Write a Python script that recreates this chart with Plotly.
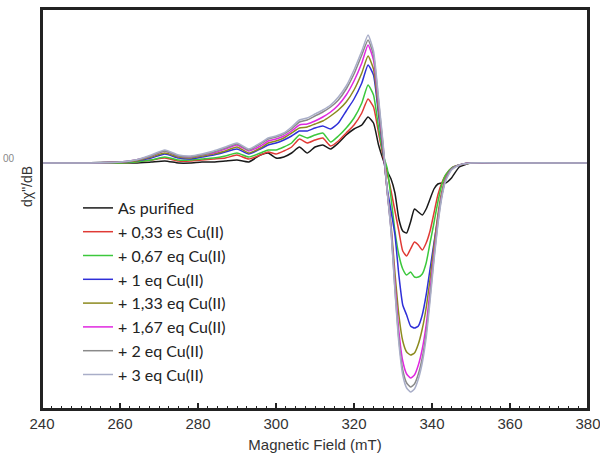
import plotly.graph_objects as go

field_mT = [240, 250, 260, 264, 268, 271.5, 275, 278, 281, 284, 287, 290, 293, 296, 298,
            300, 302, 304, 306, 308, 310, 312, 314, 316, 318, 320, 322, 323.6, 325, 326.3,
            327.5, 328.5, 329.5, 330.5, 331.5, 332.5, 333.5, 334.5, 335.5, 336.5, 337.5,
            338.5, 339.5, 340.5, 341.5, 342.5, 343.5, 345, 347, 350, 360, 370, 380]

as_purified = [0, 0, 0, 0, 1, 2, 0, 0, 1, 1, 2, 3, 1, 8, 10,
               5, 6, 10, 16, 10, 16, 18, 14, 20, 28, 34, 38, 46, 40, 18,
               3, -8, -16, -30, -56, -68, -70, -59, -46, -49, -52,
               -46, -36, -26, -21, -20, -20, -15, -4, 0, 0, 0, 0]
eq_0_33 = [0, 0, 0, 1, 3, 5, 2, 2, 3, 4, 5, 8, 4, 8, 11,
           9, 12, 16, 24, 20, 23, 25, 17, 22, 30, 38, 50, 64, 56, 30,
           6, -10, -28, -48, -68, -88, -93, -86, -79, -82, -87,
           -80, -68, -50, -32, -20, -12, -5, -2, 0, 0, 0, 0]
eq_0_67 = [0, 0, 0, 1, 3, 6, 3, 3, 4, 5, 7, 10, 6, 10, 13,
           13, 16, 20, 28, 25, 28, 30, 21, 27, 35, 45, 60, 78, 68, 35,
           8, -5, -35, -68, -92, -106, -112, -109, -114, -114, -111,
           -100, -80, -60, -39, -22, -12, -5, -2, 0, 0, 0, 0]
eq_1 = [0, 0, 1, 2, 5, 9, 5, 4, 6, 8, 11, 14, 9, 14, 18,
        20, 23, 27, 32, 32, 35, 37, 34, 40, 52, 64, 80, 98, 88, 48,
        10, -25, -48, -72, -112, -142, -152, -163, -165, -163, -152,
        -132, -106, -80, -55, -32, -16, -6, -2, 0, 0, 0, 0]
eq_1_33 = [0, 0, 1, 2, 6, 10, 6, 5, 7, 9, 12, 16, 10, 15, 20,
           22, 25, 30, 35, 36, 39, 42, 47, 53, 61, 73, 90, 107, 94, 52,
           12, -28, -62, -110, -152, -178, -189, -192, -190, -181, -166,
           -145, -116, -83, -52, -29, -15, -6, -2, 0, 0, 0, 0]
eq_1_67 = [0, 0, 1, 3, 7, 12, 7, 6, 8, 10, 14, 18, 12, 17, 22,
           24, 27, 32, 38, 39, 42, 46, 51, 58, 68, 82, 100, 118, 103, 58,
           14, -28, -65, -120, -168, -198, -211, -215, -212, -202, -186,
           -162, -128, -91, -57, -32, -16, -6, -2, 0, 0, 0, 0]
eq_2 = [0, 0, 1, 3, 7, 12, 7, 6, 8, 11, 15, 19, 13, 19, 24,
        26, 29, 34, 41, 43, 47, 51, 56, 63, 74, 89, 108, 123, 108, 62,
        16, -28, -67, -126, -176, -207, -220, -224, -221, -211, -195,
        -170, -134, -95, -60, -33, -17, -6, -2, 0, 0, 0, 0]
eq_3 = [0, 0, 1, 3, 8, 13, 8, 7, 9, 12, 16, 20, 14, 20, 25,
        27, 30, 36, 43, 45, 49, 53, 58, 66, 77, 93, 112, 128, 112, 65,
        18, -28, -68, -128, -180, -212, -225, -229, -226, -216, -200,
        -175, -138, -98, -62, -35, -18, -7, -2, 0, 0, 0, 0]

series_names = ["As purified", "+ 0,33 es Cu(II)", "+ 0,67 eq Cu(II)", "+ 1 eq Cu(II)",
                "+ 1,33 eq Cu(II)", "+ 1,67 eq Cu(II)", "+ 2 eq Cu(II)", "+ 3 eq Cu(II)"]
series_values = [as_purified, eq_0_33, eq_0_67, eq_1, eq_1_33, eq_1_67, eq_2, eq_3]
series_colors = ["#1a1a1a", "#e03a35", "#3cc83c", "#2f2fd8", "#8c8a1e", "#e027e0", "#8a8a8a", "#a9aec8"]

x_ticks = [240, 260, 280, 300, 320, 340, 360, 380]

fig = go.Figure()
for name, vals, col in zip(series_names, series_values, series_colors):
    fig.add_trace(go.Scatter(x=field_mT, y=vals, mode="lines", name=name,
                             line=dict(color=col, width=1.5, shape="spline", smoothing=0.5)))

W, H = 600, 455
ml, mr, mt, mb = 42, 12, 9, 46
pw, ph = W - ml - mr, H - mt - mb

fig.update_layout(
    width=W, height=H,
    margin=dict(l=ml, r=mr, t=mt, b=mb, autoexpand=False),
    paper_bgcolor="white", plot_bgcolor="white",
    showlegend=True,
    legend=dict(x=(78 - ml) / pw, y=(H - mb - 191) / ph,
                xanchor="left", yanchor="top",
                font=dict(family="Lato", size=16, color="#222"),
                bgcolor="rgba(0,0,0,0)", borderwidth=0, itemwidth=30),
    xaxis=dict(range=[240, 380], tickvals=x_ticks, ticks="inside", ticklen=6, tickwidth=1.5,
               tickcolor="#222", showline=True, linecolor="#222", linewidth=2, mirror=True,
               showgrid=False, zeroline=False, automargin=False, ticklabeloverflow="allow",
               tickfont=dict(family="Liberation Sans, Arial", size=15, color="#333"),
               minor=dict(dtick=2.5, ticks="inside", ticklen=3, tickcolor="#222", tickwidth=1),
               title=dict(text="Magnetic Field (mT)", standoff=8,
                          font=dict(family="Liberation Sans, Arial", size=15, color="#333"))),
    yaxis=dict(range=[-246, 154], showticklabels=False, ticks="", showline=True,
               linecolor="#222", linewidth=2, mirror=True, showgrid=False, zeroline=False,
               automargin=False),
    shapes=[dict(type="rect", xref="paper", yref="paper", x0=0, x1=1, y0=0, y1=1,
                 line=dict(color="#222", width=2), fillcolor="rgba(0,0,0,0)", layer="above")],
    annotations=[
        dict(text="d\u03c7\"/dB", textangle=-90, xref="paper", yref="paper",
             x=(27 - ml) / pw, y=(H - mb - 187) / ph,
             showarrow=False, xanchor="center", yanchor="middle",
             font=dict(family="Liberation Sans, Arial", size=14, color="#333")),
        dict(text="00", xref="paper", yref="paper",
             x=(1 - ml) / pw, y=(H - mb - 158) / ph,
             showarrow=False, xanchor="left", yanchor="middle",
             font=dict(family="Liberation Sans, Arial", size=10, color="#888")),
    ],
)

fig.write_html("out.html", config={"displayModeBar": False},
               post_script="document.body.style.margin='0';")
